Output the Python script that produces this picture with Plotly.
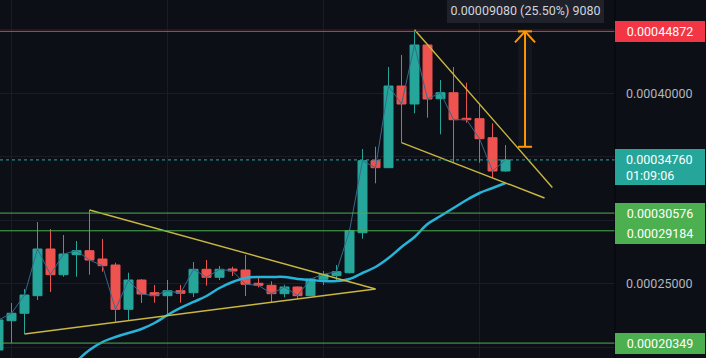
import plotly.graph_objects as go

# ---------------- data (prices) ----------------
IDX = list(range(40))
OPEN = [0.00019806, 0.00022110, 0.00022693, 0.00024077, 0.00027751, 0.00025729, 0.00027303, 0.00027617,
        0.00026964, 0.00026492, 0.00023007, 0.00025312, 0.00024313, 0.00024077, 0.00024470, 0.00024313,
        0.00026154, 0.00025525, 0.00026178, 0.00026099, 0.00025053, 0.00024895, 0.00024235, 0.00024762,
        0.00024077, 0.00025367, 0.00025651, 0.00025887, 0.00029033, 0.00034698, 0.00034147, 0.00040574,
        0.00039158, 0.00043800, 0.00039575, 0.00040047, 0.00038033, 0.00038002, 0.00036507, 0.00033887]
HIGH = [0.00022323, 0.00023503, 0.00024604, 0.00029875, 0.00029324, 0.00028852, 0.00028380, 0.00030819,
        0.00028538, 0.00026673, 0.00025887, 0.00025391, 0.00024919, 0.00025312, 0.00024919, 0.00026728,
        0.00026886, 0.00026413, 0.00026359, 0.00027279, 0.00025525, 0.00025210, 0.00024943, 0.00024800,
        0.00025446, 0.00026020, 0.00026492, 0.00029324, 0.00035618, 0.00035799, 0.00042069, 0.00043013,
        0.00044900, 0.00043850, 0.00041046, 0.00042069, 0.00040834, 0.00039213, 0.00037640, 0.00035933]
LOW = [0.00019648, 0.00020356, 0.00021064, 0.00023739, 0.00024368, 0.00025572, 0.00025572, 0.00025729,
       0.00025965, 0.00022032, 0.00022166, 0.00023503, 0.00023526, 0.00022638, 0.00023526, 0.00023975,
       0.00024864, 0.00025312, 0.00025627, 0.00024053, 0.00024738, 0.00023558, 0.00023951, 0.00023818,
       0.00024053, 0.00024919, 0.00025179, 0.00025824, 0.00028561, 0.00032920, 0.00034147, 0.00036114,
       0.00038427, 0.00038080, 0.00036775, 0.00034540, 0.00037687, 0.00034540, 0.00033337, 0.00033832]
CLOSE = [0.00022166, 0.00022693, 0.00024132, 0.00027751, 0.00025729, 0.00027358, 0.00027617, 0.00026886,
         0.00026437, 0.00023007, 0.00025312, 0.00024211, 0.00024077, 0.00024470, 0.00024266, 0.00026154,
         0.00025525, 0.00026154, 0.00026020, 0.00024974, 0.00024895, 0.00024235, 0.00024762, 0.00024077,
         0.00025391, 0.00025761, 0.00025965, 0.00029191, 0.00034698, 0.00034147, 0.00040574, 0.00039158,
         0.00043800, 0.00039552, 0.00040047, 0.00037923, 0.00037923, 0.00036428, 0.00033887, 0.00034760]
MA = [None, None, None, None, 0.00017445, 0.00018153, 0.00018940, 0.00019806,
      0.00020435, 0.00020828, 0.00021143, 0.00021458, 0.00021929, 0.00022559, 0.00023110, 0.00023582,
      0.00024053, 0.00024683, 0.00025155, 0.00025470, 0.00025548, 0.00025548, 0.00025548, 0.00025391,
      0.00025312, 0.00025234, 0.00025234, 0.00025391, 0.00025863, 0.00026335, 0.00027043, 0.00027908,
      0.00028695, 0.00029718, 0.00030347, 0.00030977, 0.00031606, 0.00032157, 0.00032550, 0.00032943]

# drawings (candle index, price)
TRI_UPPER_X = [7, 29]
TRI_UPPER_Y = [0.00030819, 0.00024604]
TRI_LOWER_X = [2, 29]
TRI_LOWER_Y = [0.00021064, 0.00024604]
WEDGE_UPPER_X = [32, 42.6]
WEDGE_UPPER_Y = [0.00045000, 0.00032589]
WEDGE_LOWER_X = [31, 42]
WEDGE_LOWER_Y = [0.00036114, 0.00031763]

RESIST = 0.00044872
SUPPORTS = [0.00030576, 0.00029184, 0.00020349]
LAST = 0.00034760
TIMER = "01:09:06"
ARROW_X = 40.5
ARROW_TOP = 0.00044872
ARROW_BOTTOM = 0.00035792
MEASURE_LABEL = "0.00009080 (25.50%) 9080"
AXIS_TICKS = [0.00020, 0.00025, 0.00030, 0.00035, 0.00040, 0.00045]
AXIS_TEXT = ["", "0.00025000", "", "", "0.00040000", ""]

# ---------------- style ----------------
BG = "#0d0f16"
GRID = "#1a1d27"
UP = "#26a69a"
DOWN = "#ef5350"
GREEN = "#4caf50"
RED = "#f23645"
YEL = "#c9b740"
ORANGE = "#ff9800"
FONT = "Roboto"
W, H = 706, 358
PLOT_W = 615
YR = [0.00019176, 0.0004734]
XR = [0.1154, 47.42]

fig = go.Figure()

fig.add_trace(go.Scatter(x=IDX, y=CLOSE, mode="lines",
                         line=dict(color="#35688c", width=1), hoverinfo="skip"))
fig.add_trace(go.Candlestick(
    x=IDX, open=OPEN, high=HIGH, low=LOW, close=CLOSE,
    increasing=dict(line=dict(color=UP, width=1), fillcolor=UP),
    decreasing=dict(line=dict(color=DOWN, width=1), fillcolor=DOWN),
    whiskerwidth=0))
fig.add_trace(go.Scatter(x=IDX, y=MA, mode="lines", line=dict(color="#27b4d8", width=2.5, shape="spline"),
                         hoverinfo="skip"))
for xs, ys in [(TRI_UPPER_X, TRI_UPPER_Y), (TRI_LOWER_X, TRI_LOWER_Y),
               (WEDGE_UPPER_X, WEDGE_UPPER_Y), (WEDGE_LOWER_X, WEDGE_LOWER_Y)]:
    fig.add_trace(go.Scatter(x=xs, y=ys, mode="lines", line=dict(color=YEL, width=1.4), hoverinfo="skip"))

shapes = []
# horizontal levels
shapes.append(dict(type="line", xref="paper", x0=0, x1=PLOT_W / W, yref="y", y0=RESIST, y1=RESIST,
                   line=dict(color=RED, width=1)))
for s in SUPPORTS:
    shapes.append(dict(type="line", xref="paper", x0=0, x1=PLOT_W / W, yref="y", y0=s, y1=s,
                       line=dict(color=GREEN, width=1)))
shapes.append(dict(type="line", xref="paper", x0=0, x1=PLOT_W / W, yref="y", y0=LAST, y1=LAST,
                   line=dict(color=UP, width=1, dash="dot")))
# measure arrow
shapes.append(dict(type="rect", xref="x", yref="y", x0=ARROW_X - 0.54, x1=ARROW_X + 0.54,
                   y0=ARROW_BOTTOM, y1=ARROW_TOP, fillcolor="rgba(255,255,255,0.035)", line=dict(width=0),
                   layer="below"))
shapes.append(dict(type="line", xref="x", yref="y", x0=ARROW_X, x1=ARROW_X, y0=ARROW_BOTTOM, y1=ARROW_TOP,
                   line=dict(color=ORANGE, width=2)))
shapes.append(dict(type="line", xref="x", yref="y", x0=ARROW_X - 0.54, x1=ARROW_X + 0.54,
                   y0=ARROW_BOTTOM, y1=ARROW_BOTTOM, line=dict(color=ORANGE, width=2)))
shapes.append(dict(type="line", xref="x", yref="y", x0=ARROW_X - 0.54, x1=ARROW_X + 0.54,
                   y0=ARROW_TOP, y1=ARROW_TOP, line=dict(color=ORANGE, width=2)))
head = ARROW_TOP - (ARROW_TOP - ARROW_BOTTOM) * 0.095
shapes.append(dict(type="path", xref="x", yref="y",
                   path=f"M {ARROW_X - 0.77} {head} L {ARROW_X} {ARROW_TOP} L {ARROW_X + 0.77} {head}",
                   line=dict(color=ORANGE, width=2)))
# axis separator
shapes.append(dict(type="line", xref="paper", yref="paper", x0=PLOT_W / W, x1=PLOT_W / W, y0=0, y1=1,
                   line=dict(color="#050608", width=1)))

ann = []
def badge(price, text, color, yshift=0, height=21):
    ann.append(dict(xref="paper", x=PLOT_W / W, xanchor="left", yref="y", y=price, yanchor="middle",
                    text=text, showarrow=False, bgcolor=color, width=90, height=height,
                    borderpad=0, borderwidth=0, align="center", yshift=yshift,
                    font=dict(color="#ffffff", size=12.5, family=FONT)))

badge(RESIST, f"{RESIST:.8f}", RED)
badge(SUPPORTS[0], f"{SUPPORTS[0]:.8f}", GREEN, yshift=0)
badge(SUPPORTS[1], f"{SUPPORTS[1]:.8f}", GREEN, yshift=-3)
badge(SUPPORTS[2], f"{SUPPORTS[2]:.8f}", GREEN)
# last price badge (two lines)
ann.append(dict(xref="paper", x=PLOT_W / W, xanchor="left", yref="y", y=LAST, yanchor="top", yshift=10.7,
                text=" ", showarrow=False, bgcolor=UP, width=90, height=36, borderpad=0, borderwidth=0))
ann.append(dict(xref="paper", x=626 / W, xanchor="left", yref="y", y=LAST, yanchor="top", yshift=8,
                text=f"{LAST:.8f}<br>{TIMER}", showarrow=False, align="left", borderpad=0, borderwidth=0,
                font=dict(color="#ffffff", size=12.5, family=FONT)))
# measure label
ann.append(dict(xref="x", x=ARROW_X, xanchor="center", yref="paper", y=1, yanchor="top", yshift=3,
                text=MEASURE_LABEL, showarrow=False, bgcolor="#1f222b", width=157, height=26,
                borderpad=0, borderwidth=0, font=dict(color="#d1d4dc", size=12.5, family=FONT)))

fig.update_layout(
    width=W, height=H, margin=dict(l=0, r=0, t=0, b=0),
    paper_bgcolor=BG, plot_bgcolor=BG, showlegend=False,
    font=dict(family=FONT, size=12.5, color="#b2b5be"),
    shapes=shapes, annotations=ann,
    boxgap=0.31, boxgroupgap=0,
    xaxis=dict(domain=[0, PLOT_W / W], range=XR, rangeslider=dict(visible=False),
               showticklabels=False, tickvals=[1, 13, 25, 37], showgrid=True, gridcolor=GRID,
               gridwidth=1, zeroline=False, showline=False, ticks=""),
    yaxis=dict(side="right", range=YR, tickvals=AXIS_TICKS, ticktext=AXIS_TEXT, showgrid=True,
               gridcolor=GRID, zeroline=False, showline=False, ticks="", ticklabelstandoff=10,
               tickfont=dict(color="#b2b5be", size=12.5, family=FONT)),
    hovermode=False,
)

fig.write_html("out.html", config={"displayModeBar": False},
               post_script="document.body.style.margin='0';document.body.style.background='#0d0f16';")
